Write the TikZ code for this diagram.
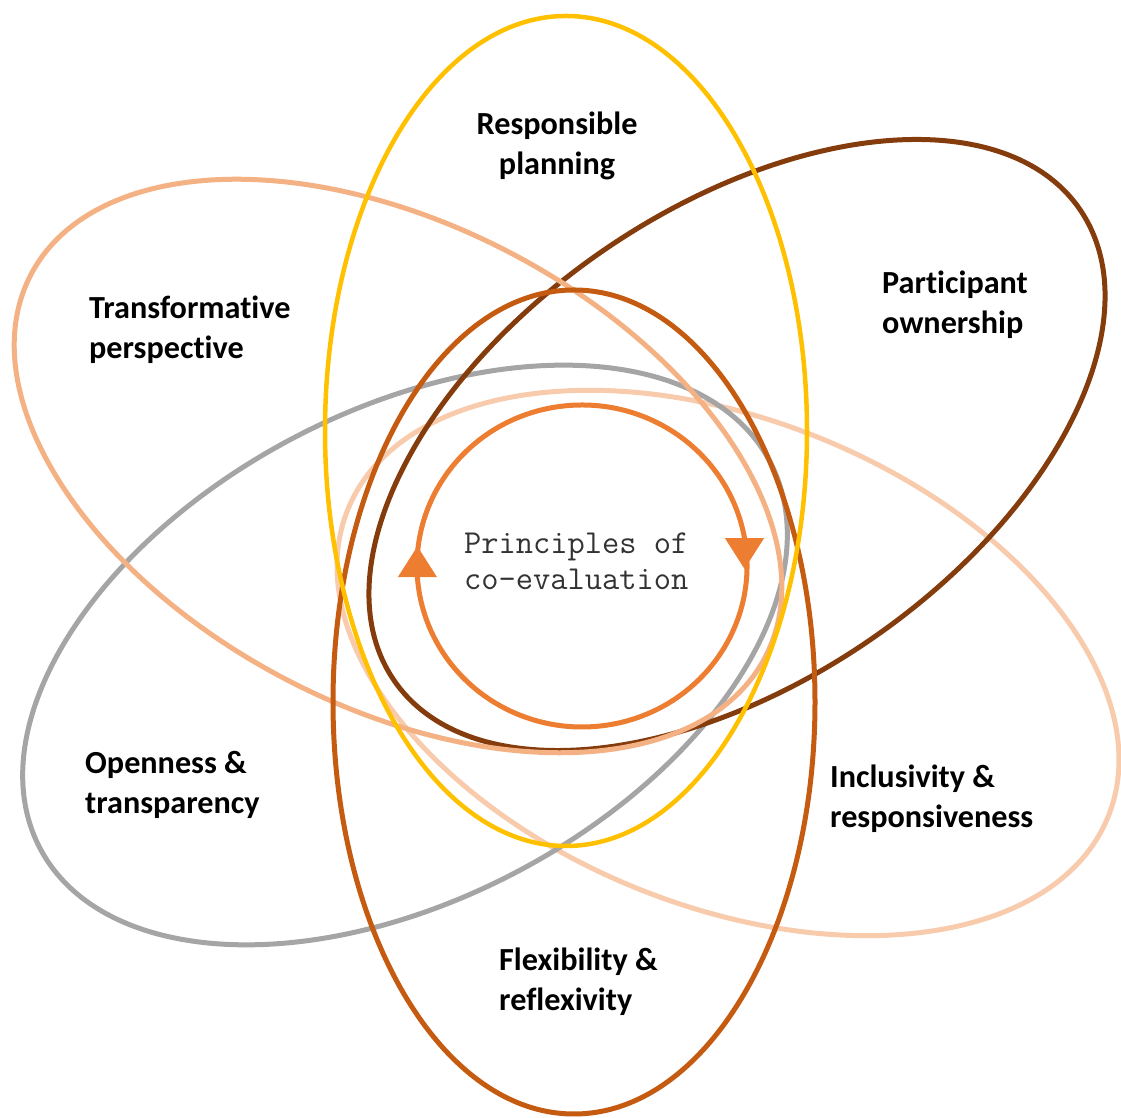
\documentclass[tikz,border=0pt]{standalone}
\usepackage{fontspec}
\newfontfamily\labfont{Carlito}[RawFeature={-liga}]
\usetikzlibrary{arrows.meta}
\definecolor{cyellow}{HTML}{FFC000}
\definecolor{cflex}{HTML}{C55A11}
\definecolor{cdark}{HTML}{843C0C}
\definecolor{csalmon}{HTML}{F4B183}
\definecolor{cpeach}{HTML}{F8CBAD}
\definecolor{cgray}{HTML}{A5A5A5}
\definecolor{corange}{HTML}{ED7D31}
\definecolor{ctext}{HTML}{333333}
\begin{document}
\begin{tikzpicture}[x=1pt,y=1pt,
  ring/.style={line width=5pt},
  lab/.style={font=\labfont\bfseries\fontsize{32.2}{40}\selectfont, inner sep=0pt, align=left, text=black},
  cyc/.style={corange, line width=5pt, -{Triangle[width=38pt,length=31pt]}}]
\useasboundingbox (0,0) rectangle (1121,1118);
% petals
\draw[ring, cpeach]  (728,455) ellipse[x radius=410, y radius=243, rotate=-22];
\draw[ring, cgray]   (405,463) ellipse[x radius=413, y radius=244, rotate=28];
\draw[ring, cdark]   (737,673) ellipse[x radius=416, y radius=236, rotate=34.5];
\draw[ring, csalmon] (398,652) ellipse[x radius=414, y radius=241, rotate=-27.5];
\draw[ring, cflex]   (574,416) ellipse[x radius=241, y radius=412];
\draw[ring, cyellow, line width=4.5pt] (566,687) ellipse[x radius=241, y radius=415];
% central cycle
\coordinate (c) at (582,552);
\coordinate (cl) at ([shift={(184:165 and 161)}]c);
\coordinate (cr) at ([shift={(10:165 and 161)}]c);
\draw[cyc] (cl) arc[start angle=184, end angle=10, x radius=165, y radius=161] -- ++(0,-31);
\draw[cyc] (cr) arc[start angle=10, end angle=-176, x radius=165, y radius=161] -- ++(0,31);
\node[font=\ttfamily\fontsize{33.5}{36}\selectfont, text=ctext, inner sep=0pt, align=left, anchor=base west] (center) at (464,528) {Principles of\\co-evaluation};
% labels
\node[lab, align=center, anchor=base] (resp) at (557,943) {Responsible\\planning};
\node[lab, anchor=base west] (trans) at (89,759) {Transformative\\perspective};
\node[lab, anchor=base west] (part) at (882,784) {Participant\\ownership};
\node[lab, anchor=base west] (open) at (85,304) {Openness \&\\transparency};
\node[lab, anchor=base west] (incl) at (830,290) {Inclusivity \&\\responsiveness};
\node[lab, anchor=base west] (flex) at (499,107) {Flexibility \&\\reflexivity};
\end{tikzpicture}
\end{document}
